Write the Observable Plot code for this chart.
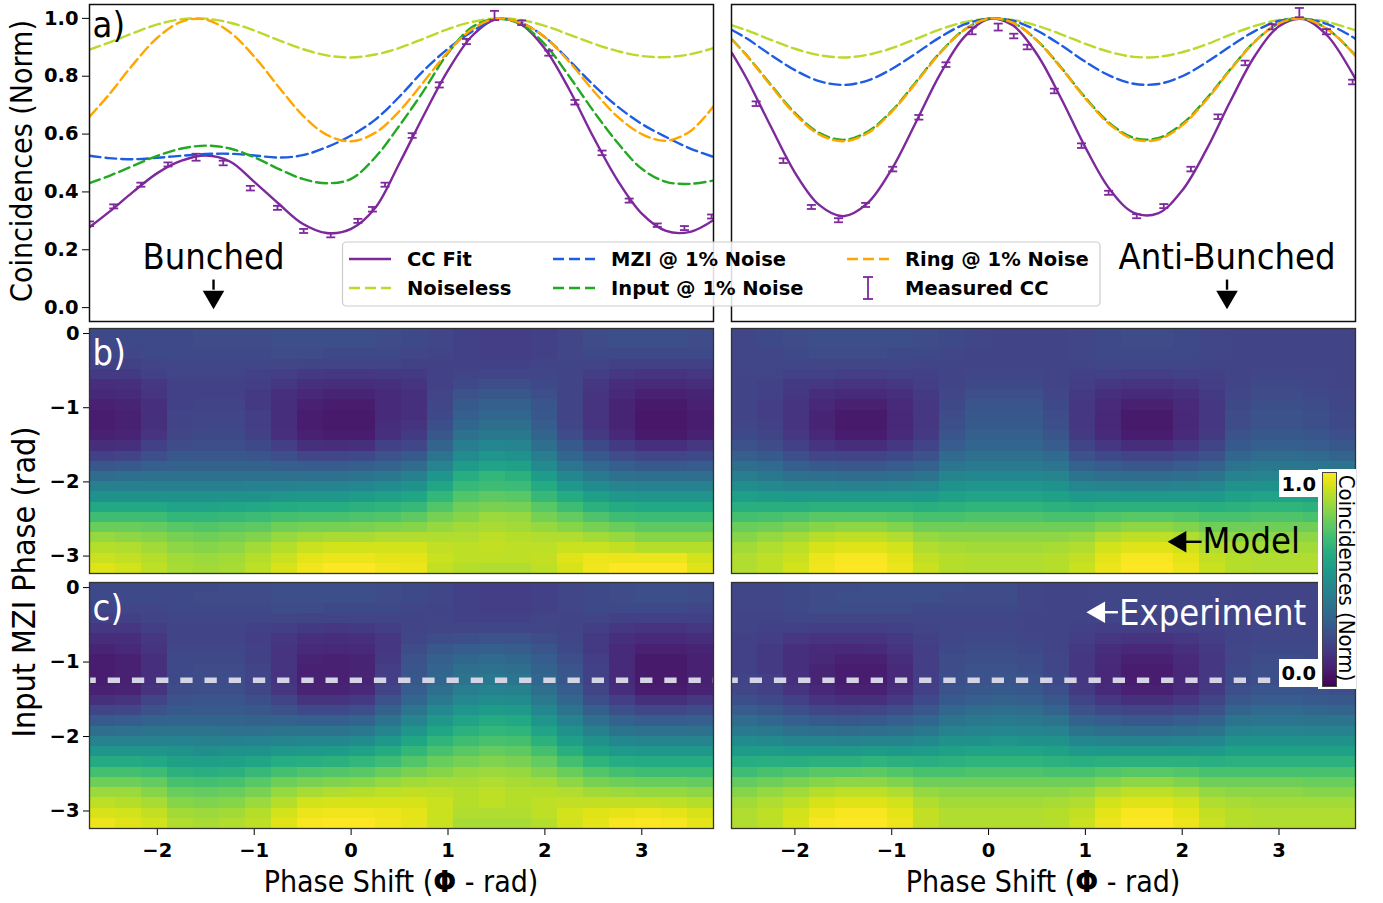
<!DOCTYPE html>
<html>
<head>
<meta charset="utf-8">
<script src="https://cdn.jsdelivr.net/npm/d3@7"></script>
<script src="https://cdn.jsdelivr.net/npm/@observablehq/plot@0.6"></script>
<style>
  html, body { margin: 0; padding: 0; background: #fff; }
  #fig { position: relative; width: 1383px; height: 903px; overflow: hidden; background: #fff; }
</style>
</head>
<body>
<div id="fig"></div>
<script>
// ---------------- DATA ----------------
// a) line panels: phase grid (rad) and normalised coincidences
const phiL = [-2.7, -2.5, -2.25, -2.0, -1.75, -1.5, -1.25, -1.0, -0.75, -0.5, -0.25, 0, 0.25, 0.5, 0.75, 1.0, 1.25, 1.5, 1.75, 2.0, 2.25, 2.5, 2.75, 3.0, 3.25, 3.5, 3.75];
const ccFitL     = [0.278, 0.33, 0.40, 0.465, 0.508, 0.526, 0.505, 0.435, 0.36, 0.29, 0.258, 0.272, 0.345, 0.50, 0.665, 0.82, 0.94, 0.998, 0.98, 0.895, 0.755, 0.59, 0.44, 0.325, 0.265, 0.262, 0.305];
const noiselessL = [0.892, 0.916, 0.949, 0.979, 0.997, 0.999, 0.985, 0.958, 0.925, 0.894, 0.872, 0.865, 0.875, 0.898, 0.930, 0.963, 0.988, 1.0, 0.995, 0.974, 0.944, 0.913, 0.887, 0.870, 0.866, 0.876, 0.898];
const mziL       = [0.525, 0.517, 0.513, 0.518, 0.525, 0.531, 0.532, 0.526, 0.519, 0.527, 0.555, 0.595, 0.65, 0.73, 0.82, 0.895, 0.955, 0.997, 0.985, 0.935, 0.855, 0.77, 0.695, 0.635, 0.59, 0.55, 0.52];
const inputL     = [0.43, 0.455, 0.49, 0.525, 0.55, 0.56, 0.55, 0.52, 0.48, 0.445, 0.43, 0.445, 0.52, 0.63, 0.75, 0.88, 0.97, 0.998, 0.98, 0.91, 0.80, 0.68, 0.57, 0.48, 0.435, 0.428, 0.44];
const ringL      = [0.660, 0.736, 0.841, 0.933, 0.989, 0.996, 0.952, 0.868, 0.764, 0.665, 0.597, 0.575, 0.605, 0.680, 0.781, 0.884, 0.963, 0.999, 0.985, 0.935, 0.85, 0.75, 0.66, 0.60, 0.577, 0.61, 0.70];
const measXL = [-2.70, -2.45, -2.17, -1.89, -1.60, -1.32, -1.04, -0.76, -0.49, -0.21, 0.07, 0.22, 0.35, 0.63, 0.91, 1.19, 1.48, 1.76, 2.04, 2.31, 2.59, 2.87, 3.16, 3.44, 3.72];
const measYL = [0.29, 0.35, 0.425, 0.495, 0.52, 0.50, 0.413, 0.345, 0.265, 0.25, 0.30, 0.34, 0.425, 0.595, 0.77, 0.92, 1.01, 0.985, 0.88, 0.71, 0.535, 0.37, 0.285, 0.275, 0.315];
const measEL = [0.008, 0.007, 0.007, 0.007, 0.012, 0.008, 0.008, 0.007, 0.007, 0.007, 0.007, 0.008, 0.007, 0.008, 0.009, 0.009, 0.016, 0.008, 0.009, 0.008, 0.008, 0.007, 0.006, 0.007, 0.007];

const phiR = [-2.65, -2.5, -2.25, -2.0, -1.75, -1.5, -1.25, -1.0, -0.75, -0.5, -0.25, 0, 0.25, 0.5, 0.75, 1.0, 1.25, 1.5, 1.75, 2.0, 2.25, 2.5, 2.75, 3.0, 3.25, 3.5, 3.75, 3.8];
const ccFitR     = [0.880, 0.793, 0.627, 0.467, 0.355, 0.316, 0.361, 0.479, 0.641, 0.807, 0.936, 0.998, 0.976, 0.876, 0.723, 0.554, 0.410, 0.328, 0.326, 0.405, 0.546, 0.715, 0.870, 0.973, 0.998, 0.940, 0.814, 0.783];
const noiselessR = [0.976, 0.959, 0.926, 0.895, 0.873, 0.865, 0.874, 0.897, 0.929, 0.962, 0.987, 0.999, 0.995, 0.975, 0.945, 0.912, 0.884, 0.867, 0.867, 0.883, 0.910, 0.944, 0.974, 0.995, 0.999, 0.988, 0.963, 0.957];
const mziR       = [0.960, 0.931, 0.874, 0.821, 0.783, 0.770, 0.785, 0.825, 0.879, 0.935, 0.979, 0.999, 0.992, 0.958, 0.907, 0.850, 0.802, 0.774, 0.773, 0.800, 0.848, 0.904, 0.956, 0.991, 0.999, 0.980, 0.938, 0.927];
const inputR     = [0.927, 0.873, 0.771, 0.673, 0.604, 0.580, 0.608, 0.680, 0.780, 0.882, 0.961, 0.999, 0.985, 0.924, 0.830, 0.726, 0.638, 0.587, 0.586, 0.635, 0.722, 0.825, 0.920, 0.983, 0.999, 0.963, 0.886, 0.867];
const ringR      = [0.926, 0.872, 0.768, 0.669, 0.599, 0.575, 0.603, 0.677, 0.777, 0.880, 0.960, 0.999, 0.985, 0.923, 0.828, 0.723, 0.634, 0.582, 0.581, 0.630, 0.718, 0.823, 0.919, 0.983, 0.999, 0.963, 0.885, 0.865];
const measXR = [-2.40, -2.12, -1.83, -1.55, -1.27, -0.99, -0.72, -0.44, -0.17, 0.10, 0.26, 0.40, 0.68, 0.96, 1.24, 1.53, 1.81, 2.09, 2.37, 2.65, 2.93, 3.21, 3.49, 3.76];
const measYR = [0.705, 0.508, 0.348, 0.302, 0.355, 0.479, 0.658, 0.84, 0.957, 0.97, 0.939, 0.901, 0.749, 0.56, 0.397, 0.316, 0.351, 0.479, 0.66, 0.846, 0.971, 1.02, 0.954, 0.78];
const measER = [0.008, 0.008, 0.007, 0.007, 0.007, 0.008, 0.008, 0.008, 0.012, 0.012, 0.008, 0.008, 0.008, 0.008, 0.007, 0.007, 0.007, 0.008, 0.008, 0.008, 0.009, 0.016, 0.009, 0.008];

const coinTicks = [0, 0.2, 0.4, 0.6, 0.8, 1.0];
const mziTicks = [0, -1, -2, -3];
const phaseTicks = [-2, -1, 0, 1, 2, 3];

// b) / c) heatmaps: 24 columns (phase shift, left->right), each 24 rows (MZI phase, 0 -> -pi), values in % of normalised coincidences
const modelBunched = [
  [22,22,21,19,17,13,11,9,8,8,9,13,19,27,35,43,51,60,69,77,84,89,92,95],
  [22,22,21,19,17,14,12,10,9,9,10,14,20,28,36,43,51,60,69,77,83,88,91,93],
  [22,22,22,20,19,16,15,14,14,14,15,19,24,30,37,43,51,60,69,76,82,86,89,90],
  [22,22,22,21,20,19,19,19,20,20,21,23,27,31,37,43,50,58,66,74,79,83,86,87],
  [23,23,22,21,20,19,19,20,21,21,22,24,27,31,37,43,50,58,66,73,78,82,85,86],
  [23,23,22,21,20,19,19,20,21,21,22,24,27,31,37,43,51,59,67,74,79,83,86,87],
  [23,23,22,21,19,18,17,17,18,18,19,22,26,31,37,44,51,60,68,75,81,86,89,90],
  [24,24,23,21,18,16,14,13,13,13,14,18,24,30,37,44,52,61,70,78,84,89,92,94],
  [24,24,23,20,17,14,11,9,8,8,9,14,21,29,37,45,53,62,71,79,86,92,96,98],
  [24,24,22,20,16,13,10,8,7,7,8,13,21,29,37,45,53,62,71,79,87,93,97,100],
  [24,24,22,20,16,13,10,8,7,7,8,14,22,30,38,46,55,64,72,80,87,93,97,100],
  [23,23,22,20,17,14,12,12,12,13,14,19,25,32,40,48,57,65,73,81,88,93,96,98],
  [22,22,21,19,17,15,14,14,14,15,17,21,28,35,43,51,59,67,75,82,88,93,96,97],
  [21,21,20,19,19,19,20,21,22,24,27,32,38,45,52,59,66,73,79,84,88,91,92,91],
  [19,19,19,19,20,22,25,28,30,33,37,42,48,55,62,67,73,78,82,86,88,90,90,89],
  [18,18,18,19,21,24,27,30,33,36,40,46,52,58,66,69,75,80,85,87,90,91,90,88],
  [18,18,18,19,21,24,27,30,33,36,40,45,51,57,64,68,74,79,84,86,89,90,90,88],
  [19,19,19,20,21,22,24,26,27,29,32,36,42,48,55,61,67,74,79,84,88,90,91,90],
  [21,21,21,20,20,20,20,20,20,21,23,28,33,39,46,53,61,69,76,82,88,92,95,94],
  [23,23,22,20,18,16,15,15,15,15,17,22,28,34,41,48,56,64,72,79,86,92,97,98],
  [24,24,22,19,16,13,11,10,10,10,11,17,23,30,37,45,53,61,69,77,84,91,97,100],
  [24,24,22,19,15,12,9,7,6,6,7,14,21,28,36,44,52,60,68,75,82,89,97,100],
  [24,24,22,19,15,12,9,7,6,6,7,14,21,28,36,44,52,60,68,75,82,89,97,100],
  [23,23,22,19,16,13,10,9,8,8,9,16,22,29,36,44,52,60,68,75,82,89,93,95]
];
const modelAnti = [
  [21,21,21,21,20,20,20,20,20,21,22,25,30,36,42,49,56,63,70,77,82,86,88,88],
  [22,22,21,21,20,19,19,18,18,19,20,23,28,34,40,47,55,63,71,78,84,88,90,90],
  [23,23,22,21,19,17,16,15,15,15,16,19,24,30,37,45,54,63,72,80,86,90,92,93],
  [24,24,23,21,19,16,13,11,10,10,11,15,21,28,36,45,54,64,74,82,89,94,97,98],
  [24,24,23,21,18,15,12,9,7,7,8,13,20,27,35,44,54,64,74,83,90,95,99,100],
  [24,24,23,21,18,15,12,9,7,7,8,13,20,27,35,44,54,64,74,83,90,95,99,100],
  [24,24,22,21,19,16,14,12,11,11,12,16,22,29,36,45,54,64,73,81,88,93,96,97],
  [23,23,22,20,19,18,17,16,16,16,17,20,25,31,38,46,54,63,71,78,84,88,91,92],
  [22,22,21,20,20,20,21,22,23,24,26,29,34,39,45,51,57,64,71,78,83,87,89,89],
  [21,21,20,20,21,22,24,26,27,28,30,33,37,41,46,52,58,65,72,78,83,86,88,88],
  [20,20,20,20,21,22,24,26,27,28,30,33,37,41,46,52,58,65,72,78,83,86,88,88],
  [20,20,20,20,21,22,24,26,27,28,30,33,37,41,46,52,58,65,72,78,83,86,88,88],
  [20,20,20,20,20,20,21,22,23,24,26,29,34,39,45,51,57,64,71,78,83,87,89,89],
  [21,21,21,20,19,18,17,16,16,16,17,20,25,31,38,46,54,63,71,78,84,88,91,92],
  [22,22,22,21,19,16,14,12,11,11,12,16,22,29,36,45,54,64,73,81,88,93,96,97],
  [23,23,22,21,18,15,12,9,7,7,8,13,20,27,35,44,54,64,74,83,90,95,99,100],
  [23,23,22,21,18,15,12,9,7,7,8,13,20,27,35,44,54,64,74,83,90,95,99,100],
  [22,22,22,21,19,16,14,12,11,11,12,16,22,29,36,45,54,64,73,81,88,93,96,97],
  [21,21,21,20,19,18,17,16,16,16,17,20,25,31,38,46,54,63,71,78,84,88,91,92],
  [20,20,20,20,20,20,21,22,23,23,25,28,33,38,44,50,57,64,71,78,83,87,89,89],
  [20,20,20,20,21,22,23,24,25,25,27,30,35,40,45,51,58,65,72,78,83,86,88,88],
  [20,20,20,20,21,22,23,24,25,25,27,30,35,40,45,51,58,65,72,78,83,86,88,88],
  [20,20,20,20,21,21,22,23,24,24,26,29,34,39,45,51,57,64,71,78,83,86,88,88],
  [20,20,20,20,20,20,21,21,22,22,24,27,32,38,44,50,57,64,71,77,82,86,88,88]
];
const exptBunched = [
  [22,22,21,19,16,13,10,8,8,8,9,14,20,28,36,44,52,61,70,78,85,90,94,97],
  [22,22,21,19,16,13,11,9,9,9,10,15,21,29,37,44,52,61,70,78,85,89,93,95],
  [22,22,21,20,18,16,15,14,14,14,15,20,25,31,38,44,52,60,69,76,82,87,91,93],
  [22,22,22,21,20,20,21,22,22,22,23,25,28,32,38,44,50,57,64,71,77,82,86,88],
  [22,23,22,21,20,20,21,22,23,23,24,26,28,32,38,43,49,56,63,70,76,81,85,87],
  [23,23,22,21,20,20,21,22,23,23,24,26,28,32,37,43,50,57,64,71,77,82,86,88],
  [23,23,22,21,19,18,19,19,20,20,21,24,27,31,37,44,51,59,67,74,80,85,89,90],
  [24,24,23,21,18,16,15,15,15,15,16,20,25,31,38,45,53,62,70,78,84,89,93,95],
  [24,24,23,20,17,14,12,10,9,9,10,15,22,30,38,46,54,63,72,80,87,93,97,99],
  [24,24,22,20,16,13,11,9,9,9,10,15,22,30,38,46,55,64,73,81,88,94,98,100],
  [24,24,22,20,17,14,12,10,10,10,11,17,24,32,40,48,57,66,74,82,89,94,98,100],
  [23,23,22,20,18,16,16,17,18,18,20,25,31,38,45,53,61,69,77,84,90,94,97,98],
  [22,22,21,20,20,21,23,25,26,27,29,33,39,45,52,59,66,73,80,86,91,94,96,96],
  [21,21,20,20,21,23,27,30,32,33,36,41,47,53,59,65,71,77,82,87,90,92,92,92],
  [19,19,19,19,21,24,29,33,36,38,42,47,52,58,64,69,74,79,84,87,89,89,88,87],
  [18,18,18,19,21,25,30,34,37,40,44,49,55,61,66,71,76,81,85,88,90,90,88,87],
  [18,18,18,19,21,25,29,33,36,39,43,48,54,60,65,70,75,80,84,87,89,89,88,87],
  [19,19,19,20,21,23,26,29,31,33,36,41,46,52,58,64,70,76,81,86,89,90,90,89],
  [21,21,21,20,20,21,22,24,26,27,29,33,38,44,50,56,63,70,77,83,88,91,93,93],
  [22,22,22,20,18,17,17,18,19,19,20,24,30,36,43,50,57,65,73,80,86,91,95,96],
  [23,23,22,19,16,14,12,12,12,12,13,18,24,31,38,46,54,62,70,78,85,91,96,99],
  [24,24,22,19,15,12,9,7,7,7,8,14,21,29,37,45,53,61,69,77,84,91,97,100],
  [24,24,22,19,15,12,9,7,7,7,8,14,21,29,37,45,53,61,69,77,84,90,96,99],
  [23,23,21,19,16,13,10,9,9,9,10,16,23,30,37,45,53,61,69,76,83,89,94,96]
];
const exptAnti = [
  [21,21,21,20,20,19,19,19,19,20,21,24,29,35,41,48,55,62,69,76,82,86,88,88],
  [21,21,21,20,19,18,17,17,17,18,19,22,27,33,40,47,55,63,71,78,84,88,90,90],
  [22,22,22,21,19,16,14,14,14,14,15,19,24,30,37,45,54,63,72,80,86,90,93,94],
  [23,23,23,21,18,15,12,11,10,10,11,15,21,28,36,45,54,64,74,82,89,94,97,99],
  [23,24,23,21,18,15,11,9,8,8,9,14,20,27,35,44,54,64,74,83,90,95,99,100],
  [24,24,23,21,18,15,12,9,8,8,9,14,21,28,36,45,55,65,75,83,90,95,99,100],
  [24,24,23,21,19,17,15,13,12,12,13,17,23,30,37,45,54,64,73,81,88,93,96,97],
  [24,24,22,21,20,19,18,18,18,18,19,22,27,33,40,47,55,63,71,78,84,88,91,91],
  [24,23,22,21,21,21,22,23,23,24,25,28,33,38,44,50,57,64,71,78,83,86,88,88],
  [23,23,22,21,21,22,23,24,25,25,27,30,35,40,45,51,58,65,72,78,83,86,88,88],
  [23,23,22,21,21,22,23,24,25,26,28,31,36,41,46,52,58,65,72,78,83,86,88,88],
  [21,21,21,20,20,21,22,23,24,25,27,30,35,40,45,51,58,65,72,78,83,86,88,88],
  [20,20,20,20,20,20,20,21,21,22,24,27,32,38,44,50,57,64,71,78,83,87,89,89],
  [20,20,20,20,19,18,17,16,16,16,17,20,25,31,38,46,54,63,71,78,84,88,91,92],
  [21,21,21,20,18,16,13,12,11,11,12,16,22,29,36,45,54,64,73,81,88,93,96,97],
  [21,21,21,20,18,15,11,9,8,8,9,14,20,27,35,44,54,64,74,83,90,95,99,100],
  [21,21,21,20,18,15,11,9,8,8,9,14,20,27,35,44,54,64,74,83,90,95,99,100],
  [21,21,21,20,19,16,14,12,11,11,12,16,22,29,36,45,54,64,73,81,88,93,96,97],
  [21,21,21,20,19,18,17,16,16,16,17,20,25,31,38,46,54,63,71,78,84,88,91,92],
  [20,20,20,20,20,20,21,21,22,22,24,27,32,38,44,50,57,64,71,78,83,87,89,89],
  [20,20,20,20,21,21,22,23,24,24,26,29,34,39,45,51,57,64,71,78,83,86,88,88],
  [20,20,20,20,21,21,22,23,24,24,26,29,34,39,45,51,57,64,71,78,83,86,88,88],
  [20,20,20,20,20,21,22,22,23,23,25,28,33,38,44,50,57,64,71,77,82,86,88,88],
  [20,20,20,20,20,20,21,21,22,22,24,27,32,38,44,50,57,64,71,77,82,86,88,88]
];
const selectedMziPhase = -1.243; // dashed cut shown in panel a)

// ---------------- STYLE / LAYOUT ----------------
const COND = "DejaVu Sans Condensed";
const purple = "#7d299c", lime = "#b9d92b", blue = "#1d5ce3", green = "#22a822", orange = "#ffa600";
const DASH = "11,5";
const fig = document.getElementById("fig");
const W = 624;
const domL = [-2.70, 3.74], domR = [-2.655, 3.79];
const yDomA = [-0.048, 1.048];
const yDomH = [-3.235, 0.068];
const baseStyle = {background: "transparent", overflow: "visible", fontFamily: "DejaVu Sans", color: "#000"};
const intFmt = d3.format("d");
const TICK_FS = 19.5;

function mount(node, fx, fy, m) {
  node.style.position = "absolute";
  node.style.left = (fx - m.left) + "px";
  node.style.top = (fy - m.top) + "px";
  fig.appendChild(node);
}

const capSymbol = {draw(ctx, size) { const r = Math.sqrt(size / Math.PI); ctx.moveTo(-r, 0); ctx.lineTo(r, 0); }};

function arrowMarks(a, color) {
  return [
    Plot.link([a], {x1: "sx1", y1: "sy1", x2: "sx2", y2: "sy2", stroke: color, strokeWidth: 2.4}),
    Plot.dot([a], {x: "hx", y: "hy", symbol: "triangle", r: 8, rotate: a.rot, fill: color, stroke: "none"})
  ];
}

function linePanel({fx, fy, xDom, phi, series, mx, my, me, axis, extra}) {
  const m = {left: axis ? 62 : 4, right: 6, top: 4, bottom: 6};
  const pts = mx.map((x, i) => ({x, y: my[i], e: me[i]}));
  const marks = [];
  if (axis) marks.push(Plot.axisY({ticks: coinTicks, tickSize: 7, tickPadding: 4, tickFormat: ".1f", fontSize: TICK_FS, fontWeight: "bold", label: null}));
  series.forEach(s => marks.push(Plot.line(phi.map((x, i) => ({x, y: s.y[i]})),
    {x: "x", y: "y", stroke: s.color, strokeWidth: 2.4, strokeDasharray: s.dash, curve: "catmull-rom", clip: true})));
  marks.push(Plot.ruleX(pts, {x: "x", y1: d => d.y - d.e, y2: d => d.y + d.e, stroke: purple, strokeWidth: 1.8, clip: true}));
  marks.push(Plot.dot(pts, {x: "x", y: d => d.y - d.e, symbol: capSymbol, r: 4.5, stroke: purple, strokeWidth: 1.8, fill: "none", clip: true}));
  marks.push(Plot.dot(pts, {x: "x", y: d => d.y + d.e, symbol: capSymbol, r: 4.5, stroke: purple, strokeWidth: 1.8, fill: "none", clip: true}));
  marks.push(...extra);
  marks.push(Plot.frame({stroke: "#111", strokeWidth: 1.5}));
  const y = axis ? {domain: yDomA} : {domain: yDomA, axis: null};
  const p = Plot.plot({
    width: W + m.left + m.right, height: 317 + m.top + m.bottom,
    marginLeft: m.left, marginRight: m.right, marginTop: m.top, marginBottom: m.bottom,
    x: {domain: xDom, axis: null}, y, style: baseStyle, marks
  });
  mount(p, fx, fy, m);
}

function heatPanel({fx, fy, h, xDom, grid, yAxis, xAxis, extra}) {
  const m = {left: yAxis ? 62 : 4, right: 6, top: 4, bottom: xAxis ? 44 : 6};
  const nC = grid.length, nR = grid[0].length;
  const dx = (xDom[1] - xDom[0]) / nC, dy = (yDomH[1] - yDomH[0]) / nR;
  const cells = grid.flatMap((col, j) => col.map((v, i) => ({
    x1: xDom[0] + j * dx, x2: xDom[0] + (j + 1) * dx,
    y2: yDomH[1] - i * dy, y1: yDomH[1] - (i + 1) * dy, v: v / 100})));
  const marks = [Plot.rect(cells, {x1: "x1", x2: "x2", y1: "y1", y2: "y2", fill: "v", shapeRendering: "crispEdges"})];
  if (yAxis) marks.push(Plot.axisY({ticks: mziTicks, tickSize: 6, tickPadding: 4, tickFormat: intFmt, fontSize: TICK_FS, fontWeight: "bold", label: null}));
  if (xAxis) marks.push(Plot.axisX({ticks: phaseTicks, tickSize: 7, tickPadding: 8, tickFormat: intFmt, fontSize: TICK_FS, fontWeight: "bold", label: null}));
  marks.push(...extra);
  marks.push(Plot.frame({stroke: "#333", strokeWidth: 1.3}));
  const p = Plot.plot({
    width: W + m.left + m.right, height: h + m.top + m.bottom,
    marginLeft: m.left, marginRight: m.right, marginTop: m.top, marginBottom: m.bottom,
    x: xAxis ? {domain: xDom} : {domain: xDom, axis: null},
    y: yAxis ? {domain: yDomH} : {domain: yDomH, axis: null},
    color: {type: "linear", scheme: "viridis", domain: [0, 1]},
    style: baseStyle, marks
  });
  mount(p, fx, fy, m);
}

const txt = (label, x, y, o) => Plot.text([label], {x, y, text: d => d, fontFamily: COND, fontSize: 36, lineAnchor: "bottom", ...o});

// ---------------- a) ----------------
linePanel({
  fx: 89, fy: 4, xDom: domL, phi: phiL, axis: true,
  series: [
    {y: ccFitL, color: purple}, {y: noiselessL, color: lime, dash: DASH}, {y: mziL, color: blue, dash: DASH},
    {y: inputL, color: green, dash: DASH}, {y: ringL, color: orange, dash: DASH}],
  mx: measXL, my: measYL, me: measEL,
  extra: [
    txt("a)", -2.668, 0.935, {textAnchor: "start", fill: "#000"}),
    txt("Bunched", -1.42, 0.134, {textAnchor: "middle", fill: "#000"}),
    ...arrowMarks({sx1: -1.42, sy1: 0.097, sx2: -1.42, sy2: 0.062, hx: -1.42, hy: 0.037, rot: 180}, "#000")
  ]
});
linePanel({
  fx: 731, fy: 4, xDom: domR, phi: phiR, axis: false,
  series: [
    {y: ccFitR, color: purple}, {y: noiselessR, color: lime, dash: DASH}, {y: mziR, color: blue, dash: DASH},
    {y: inputR, color: green, dash: DASH}, {y: ringR, color: orange, dash: DASH}],
  mx: measXR, my: measYR, me: measER,
  extra: [
    txt("Anti-Bunched", 2.463, 0.134, {textAnchor: "middle", fill: "#000"}),
    ...arrowMarks({sx1: 2.463, sy1: 0.097, sx2: 2.463, sy2: 0.062, hx: 2.463, hy: 0.037, rot: 180}, "#000")
  ]
});

// ---------------- b) model ----------------
heatPanel({fx: 89, fy: 328, h: 245, xDom: domL, grid: modelBunched, yAxis: true, xAxis: false,
  extra: [txt("b)", -2.668, -0.43, {textAnchor: "start", fill: "#fff"})]});
heatPanel({fx: 731, fy: 328, h: 245, xDom: domR, grid: modelAnti, yAxis: false, xAxis: false,
  extra: [
    txt("Model", 2.211, -2.96, {textAnchor: "start", fill: "#000"}),
    ...arrowMarks({sx1: 2.02, sy1: -2.808, sx2: 2.20, sy2: -2.808, hx: 1.978, hy: -2.808, rot: -90}, "#000")
  ]});

// ---------------- c) experiment ----------------
const cutRule = Plot.ruleY([selectedMziPhase], {stroke: "#d4d4e4", strokeWidth: 5.5, strokeDasharray: "12.3,11.9", strokeDashoffset: 5.5});
heatPanel({fx: 89, fy: 582, h: 246, xDom: domL, grid: exptBunched, yAxis: true, xAxis: true,
  extra: [cutRule, txt("c)", -2.668, -0.44, {textAnchor: "start", fill: "#fff"})]});
heatPanel({fx: 731, fy: 582, h: 246, xDom: domR, grid: exptAnti, yAxis: false, xAxis: true,
  extra: [
    cutRule,
    txt("Experiment", 1.348, -0.50, {textAnchor: "start", fill: "#fff"}),
    ...arrowMarks({sx1: 1.20, sy1: -0.331, sx2: 1.336, sy2: -0.331, hx: 1.139, hy: -0.331, rot: -90}, "#fff")
  ]});

// ---------------- colorbar ----------------
const cbBoxes = [[1318, 469, 38, 220], [1279, 470, 39, 27], [1279, 659, 39, 28]];
cbBoxes.forEach(([x, y, w, h]) => {
  const d = document.createElement("div");
  Object.assign(d.style, {position: "absolute", left: x + "px", top: y + "px", width: w + "px", height: h + "px", background: "#fff"});
  fig.appendChild(d);
});
const cbSteps = d3.range(200).map(i => i / 200);
{
  const m = {left: 1, right: 1, top: 1, bottom: 1};
  const cb = Plot.plot({
    width: 14 + 2, height: 214 + 2, marginLeft: 1, marginRight: 1, marginTop: 1, marginBottom: 1,
    x: {domain: [0, 1], axis: null}, y: {domain: [0, 1], axis: null},
    color: {type: "linear", scheme: "viridis", domain: [0, 1]},
    style: baseStyle,
    marks: [
      Plot.rect(cbSteps, {x1: 0, x2: 1, y1: d => d, y2: d => d + 1 / 200, fill: d => d + 0.5 / 200, shapeRendering: "crispEdges"}),
      Plot.frame({stroke: "#444", strokeWidth: 1})
    ]
  });
  mount(cb, 1322, 472, m);
}

// ---------------- overlay text: axis labels, colorbar labels, legend ----------------
const ov = d3.create("svg").attr("width", 1383).attr("height", 903)
  .style("position", "absolute").style("left", "0px").style("top", "0px").style("overflow", "visible");
const condText = (sel) => sel.attr("font-family", `'${COND}', 'DejaVu Sans'`).style("font-stretch", "condensed");

condText(ov.append("text")).attr("transform", "translate(32,161) rotate(-90)").attr("text-anchor", "middle")
  .attr("font-size", 30).text("Coincidences (Norm)");
condText(ov.append("text")).attr("transform", "translate(35,582) rotate(-90)").attr("text-anchor", "middle")
  .attr("font-size", 32).text("Input MZI Phase (rad)");
for (const cx of [401, 1043]) {
  const t = condText(ov.append("text")).attr("x", cx).attr("y", 892).attr("text-anchor", "middle").attr("font-size", 30);
  t.append("tspan").text("Phase Shift (");
  t.append("tspan").attr("font-weight", "bold").attr("font-family", "DejaVu Sans").text("Φ");
  t.append("tspan").text(" - rad)");
}
condText(ov.append("text")).attr("transform", "translate(1339,578) rotate(90)").attr("text-anchor", "middle")
  .attr("font-size", 22).text("Coincidences (Norm)");
[["1.0", 484], ["0.0", 673]].forEach(([s, y]) => {
  ov.append("text").attr("x", 1316).attr("y", y).attr("dy", "0.35em").attr("text-anchor", "end")
    .attr("font-family", "DejaVu Sans").attr("font-weight", "bold").attr("font-size", TICK_FS).text(s);
});

// legend
const legendItems = [
  {label: "CC Fit", color: purple, kind: "solid", col: 0, row: 0},
  {label: "Noiseless", color: lime, kind: "dash", col: 0, row: 1},
  {label: "MZI @ 1% Noise", color: blue, kind: "dash", col: 1, row: 0},
  {label: "Input @ 1% Noise", color: green, kind: "dash", col: 1, row: 1},
  {label: "Ring @ 1% Noise", color: orange, kind: "dash", col: 2, row: 0},
  {label: "Measured CC", color: purple, kind: "err", col: 2, row: 1}
];
const lgColX = [349, 553, 847], lgRowY = [259, 288];
const lg = ov.append("g");
lg.append("rect").attr("x", 342.5).attr("y", 242).attr("width", 757.5).attr("height", 64).attr("rx", 4)
  .attr("fill", "#fff").attr("fill-opacity", 0.85).attr("stroke", "#cccccc").attr("stroke-width", 1.2);
legendItems.forEach(it => {
  const x0 = lgColX[it.col], y0 = lgRowY[it.row];
  if (it.kind === "err") {
    const xc = x0 + 21;
    lg.append("line").attr("x1", xc).attr("x2", xc).attr("y1", y0 - 11).attr("y2", y0 + 11).attr("stroke", it.color).attr("stroke-width", 1.8);
    [y0 - 11, y0 + 11].forEach(yy => lg.append("line").attr("x1", xc - 5).attr("x2", xc + 5).attr("y1", yy).attr("y2", yy).attr("stroke", it.color).attr("stroke-width", 1.8));
  } else {
    lg.append("line").attr("x1", x0).attr("x2", x0 + 42).attr("y1", y0).attr("y2", y0)
      .attr("stroke", it.color).attr("stroke-width", 2.4).attr("stroke-dasharray", it.kind === "dash" ? DASH : null);
  }
  lg.append("text").attr("x", x0 + 58).attr("y", y0).attr("dy", "0.36em").attr("font-family", "DejaVu Sans")
    .attr("font-weight", "bold").attr("font-size", 19.5).text(it.label);
});
fig.appendChild(ov.node());
</script>
</body>
</html>
